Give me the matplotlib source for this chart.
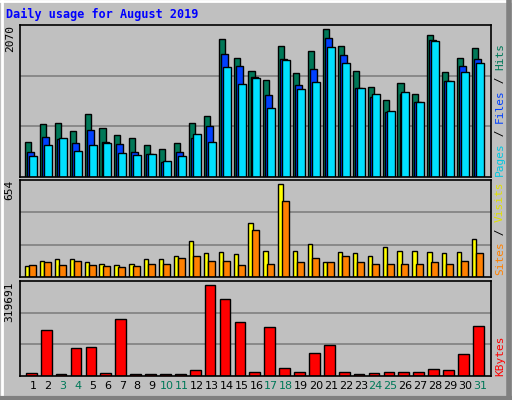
import matplotlib
matplotlib.use("Agg")
import matplotlib.pyplot as plt
import numpy as np

days = list(range(1, 32))
hits = [482, 728, 742, 632, 864, 673, 578, 537, 441, 387, 469, 742, 837, 1874, 1615, 1438,
        1315, 1779, 1410, 1711, 2011, 1779, 1438, 1219, 1042, 1274, 1124, 1929, 1424, 1615, 1752]
files = [346, 550, 523, 469, 646, 482, 455, 346, 318, 209, 346, 537, 701, 1670, 1506, 1356,
         1110, 1601, 1247, 1465, 1888, 1656, 1206, 1083, 892, 1137, 1015, 1861, 1301, 1506, 1601]
pages = [291, 441, 537, 359, 441, 469, 332, 305, 318, 223, 291, 591, 482, 1492, 1260, 1342,
         946, 1588, 1192, 1288, 1765, 1547, 1206, 1124, 905, 1151, 1028, 1847, 1301, 1424, 1547]
sites = [77, 111, 118, 118, 104, 91, 84, 91, 118, 118, 139, 241, 159, 166, 152, 363,
         173, 629, 173, 220, 104, 166, 159, 139, 200, 173, 173, 166, 159, 166, 254]
visits = [84, 98, 84, 111, 84, 77, 70, 77, 91, 91, 125, 139, 111, 111, 84, 316,
          91, 513, 98, 125, 98, 139, 98, 91, 91, 91, 91, 98, 91, 111, 159]
kbytes = [10000, 156000, 6800, 95700, 98000, 10000, 192500, 6800, 6800, 6800, 6800, 20300,
          307300, 260000, 182400, 13500, 165500, 27000, 13500, 77700, 104700, 13500, 6800,
          10000, 13500, 13500, 13500, 23600, 20300, 74300, 168900]
weekends = [3, 4, 10, 11, 17, 18, 24, 25, 31]
max_top, max_mid, max_bot = 2070, 654, 319691

bg = "#C0C0C0"
fig = plt.figure(figsize=(5.12, 4.0), dpi=100, facecolor=bg)
x = np.array(days)

def panel(rect, ymax):
    ax = fig.add_axes(rect, facecolor=bg)
    ax.set_xlim(0.13, 31.74)
    ax.set_ylim(0, ymax)
    for f in (1/3, 2/3):
        ax.axhline(ymax * f, color="#808080", lw=1.2, zorder=0)
    ax.set_yticks([])
    ax.set_xticks([])
    for s in ax.spines.values():
        s.set_linewidth(1.2)
    ax.text(-0.022, 1.0, str(ymax), transform=ax.transAxes, rotation=90,
            ha="center", va="top", fontsize=8, family="DejaVu Sans Mono")
    return ax

ax1 = panel([20/512, 1-177/400, 471/512, 152/400], max_top)
kw = dict(align="edge", edgecolor="black", linewidth=1)
ax1.bar(x - 0.54, hits, 0.41, color="#007858", **kw)
ax1.bar(x - 0.40, files, 0.47, color="#0040FF", **kw)
ax1.bar(x - 0.27, pages, 0.54, color="#00E0FF", **kw)

ax2 = panel([20/512, 1-277/400, 471/512, 97/400], max_mid)
ax2.bar(x - 0.54, sites, 0.29, color="#FFFF00", **kw)
ax2.bar(x - 0.27, visits, 0.47, color="#FF8000", **kw)

ax3 = panel([20/512, 1-376/400, 471/512, 95/400], max_bot)
ax3.bar(x - 0.47, kbytes, 0.72, color="#FF0000", **kw)
for d in days:
    ax3.text(d, -0.05, str(d), transform=ax3.get_xaxis_transform(), ha="center", va="top",
             fontsize=8, color="#007858" if d in weekends else "black")

fig.text(6/512, 1-14/400, "Daily usage for August 2019", color="#0000FF",
         family="DejaVu Sans Mono", weight="bold", fontsize=8.5, va="center")

def side(y, parts):
    t = None
    yy = y
    for s, c in parts:
        t = fig.text(500/512, yy, s, color=c, rotation=90, ha="center", va="bottom",
                     fontsize=8, family="DejaVu Sans Mono")
        yy += len(s) * 0.0165
side(1-176/400, [("Pages", "#00C8E0"), (" / ", "black"), ("Files", "#0040FF"),
                 (" / ", "black"), ("Hits", "#007858")])
side(1-275/400, [("Sites", "#FF8000"), (" / ", "black"), ("Visits", "#E0E000")])
side(1-376/400, [("KBytes", "#FF0000")])

# 3D border
fig.add_artist(plt.Line2D([0.003, 0.003], [0, 1], color="white", lw=2, transform=fig.transFigure))
fig.add_artist(plt.Line2D([0, 1], [0.997, 0.997], color="white", lw=2, transform=fig.transFigure))
fig.add_artist(plt.Line2D([0.995, 0.995], [0, 1], color="#808080", lw=4, transform=fig.transFigure))
fig.add_artist(plt.Line2D([0, 1], [0.004, 0.004], color="#808080", lw=3, transform=fig.transFigure))

fig.savefig("out.png", dpi=100, facecolor=bg)
